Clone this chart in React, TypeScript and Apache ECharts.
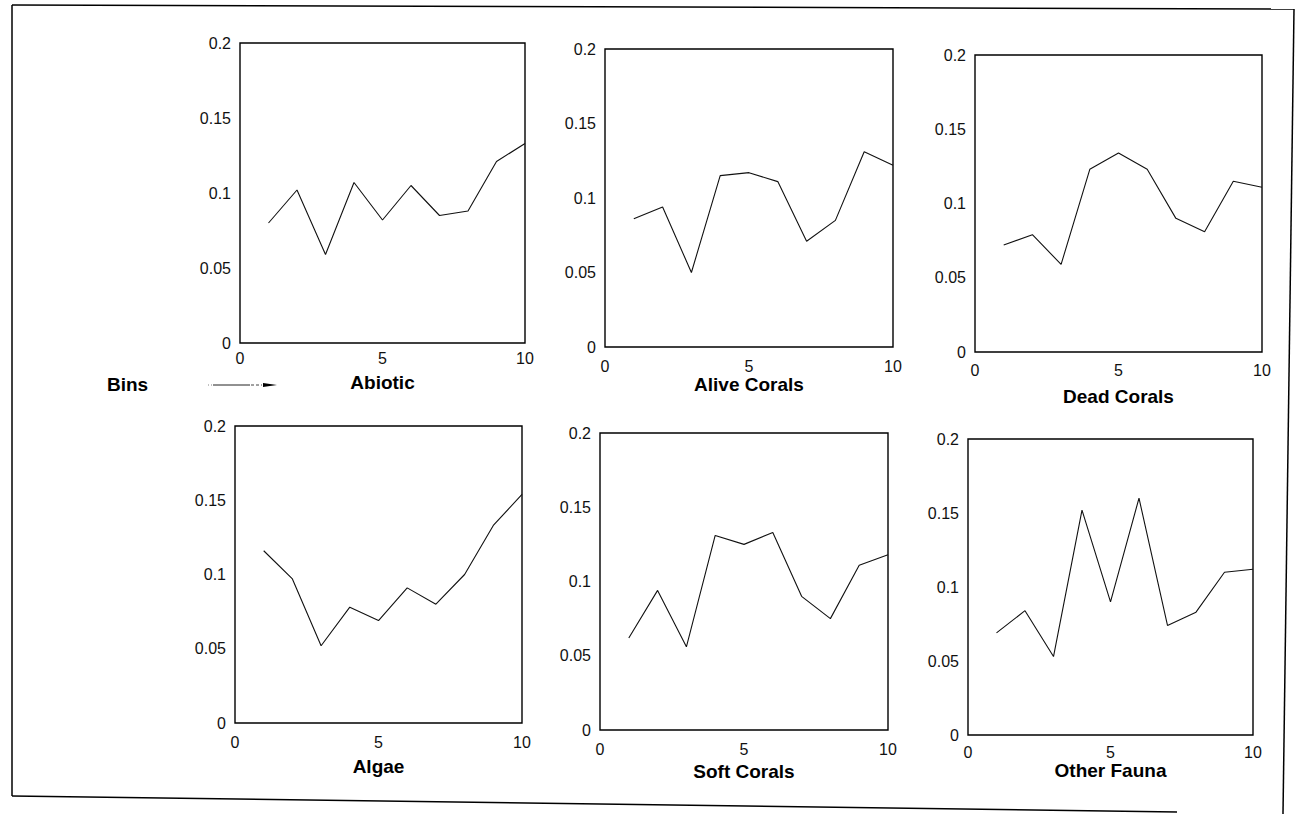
import React, { useEffect, useRef } from "react";
import * as echarts from "echarts";

const bins = [1, 2, 3, 4, 5, 6, 7, 8, 9, 10];
const panelTitles = ["Abiotic", "Alive Corals", "Dead Corals", "Algae", "Soft Corals", "Other Fauna"];
const abiotic = [0.080, 0.102, 0.059, 0.107, 0.082, 0.105, 0.085, 0.088, 0.121, 0.133];
const aliveCorals = [0.086, 0.094, 0.050, 0.115, 0.117, 0.111, 0.071, 0.085, 0.131, 0.122];
const deadCorals = [0.072, 0.079, 0.059, 0.123, 0.134, 0.123, 0.090, 0.081, 0.115, 0.111];
const algae = [0.116, 0.097, 0.052, 0.078, 0.069, 0.091, 0.080, 0.100, 0.133, 0.154];
const softCorals = [0.062, 0.094, 0.056, 0.131, 0.125, 0.133, 0.090, 0.075, 0.111, 0.118];
const otherFauna = [0.069, 0.084, 0.053, 0.152, 0.090, 0.160, 0.074, 0.083, 0.110, 0.112];
const panelSeries = [abiotic, aliveCorals, deadCorals, algae, softCorals, otherFauna];

const grids = [
  { left: 240, top: 43, width: 285, height: 300 },
  { left: 605, top: 49, width: 288, height: 298 },
  { left: 975, top: 55, width: 287, height: 297 },
  { left: 235, top: 426, width: 287, height: 297 },
  { left: 600, top: 433, width: 288, height: 297 },
  { left: 968, top: 439, width: 285, height: 296 },
];
const xLabelMargins = [7, 11, 10, 11, 11, 9];
const titleGaps = [30, 28, 35, 34, 32, 26];

const FONT = "'Liberation Sans', Arial, sans-serif";

export default function App() {
  const ref = useRef<HTMLDivElement>(null);
  useEffect(() => {
    if (!ref.current) return;
    const chart = echarts.init(ref.current, undefined, { renderer: "svg" });
    const option: any = {
      animation: false,
      backgroundColor: "#fff",
      grid: grids.map((g) => ({ ...g, show: true, borderColor: "#000", borderWidth: 1.4, backgroundColor: "transparent" })),
      xAxis: grids.map((_, i) => ({
        type: "value",
        gridIndex: i,
        min: 0,
        max: 10,
        interval: 5,
        axisLine: { show: false },
        axisTick: { show: false },
        splitLine: { show: false },
        axisLabel: { color: "#111", fontSize: 16, fontFamily: FONT, margin: xLabelMargins[i] },
        name: panelTitles[i],
        nameLocation: "middle",
        nameGap: titleGaps[i],
        nameTextStyle: { color: "#000", fontSize: 19, fontWeight: "bold", fontFamily: FONT },
      })),
      yAxis: grids.map((_, i) => ({
        type: "value",
        gridIndex: i,
        min: 0,
        max: 0.2,
        interval: 0.05,
        axisLine: { show: false },
        axisTick: { show: false },
        splitLine: { show: false },
        axisLabel: { color: "#111", fontSize: 16, fontFamily: FONT, margin: 9 },
      })),
      series: panelSeries.map((vals, i) => ({
        type: "line",
        xAxisIndex: i,
        yAxisIndex: i,
        data: bins.map((b, j) => [b, vals[j]]),
        showSymbol: false,
        lineStyle: { color: "#111", width: 1.1 },
      })),
      graphic: [
        { type: "line", shape: { x1: 12, y1: 5, x2: 1294, y2: 9 }, style: { stroke: "#000", lineWidth: 1.5 } },
        { type: "line", shape: { x1: 12, y1: 5, x2: 12, y2: 796 }, style: { stroke: "#000", lineWidth: 1.5 } },
        { type: "line", shape: { x1: 12, y1: 796, x2: 1177, y2: 812 }, style: { stroke: "#000", lineWidth: 1.5 } },
        { type: "line", shape: { x1: 1294, y1: 9, x2: 1283, y2: 814 }, style: { stroke: "#000", lineWidth: 1.5 } },
        {
          type: "text",
          x: 107,
          y: 384,
          style: { text: "Bins", fill: "#000", font: `bold 19px ${FONT}`, verticalAlign: "middle" },
        },
        { type: "line", shape: { x1: 208, y1: 385, x2: 212, y2: 385 }, style: { stroke: "#666", lineWidth: 0.8, lineDash: [1, 2] } },
        { type: "line", shape: { x1: 213, y1: 385, x2: 250, y2: 385 }, style: { stroke: "#222", lineWidth: 1 } },
        { type: "line", shape: { x1: 251, y1: 385, x2: 262, y2: 385 }, style: { stroke: "#444", lineWidth: 1, lineDash: [3, 2] } },
        { type: "polygon", shape: { points: [[263, 383], [277, 385], [263, 387]] }, style: { fill: "#000" } },
      ],
    };
    chart.setOption(option);
    return () => chart.dispose();
  }, []);
  return (
    <div
      ref={ref}
      style={{ position: "fixed", left: 0, top: 0, width: 1297, height: 814, background: "#fff" }}
    />
  );
}
